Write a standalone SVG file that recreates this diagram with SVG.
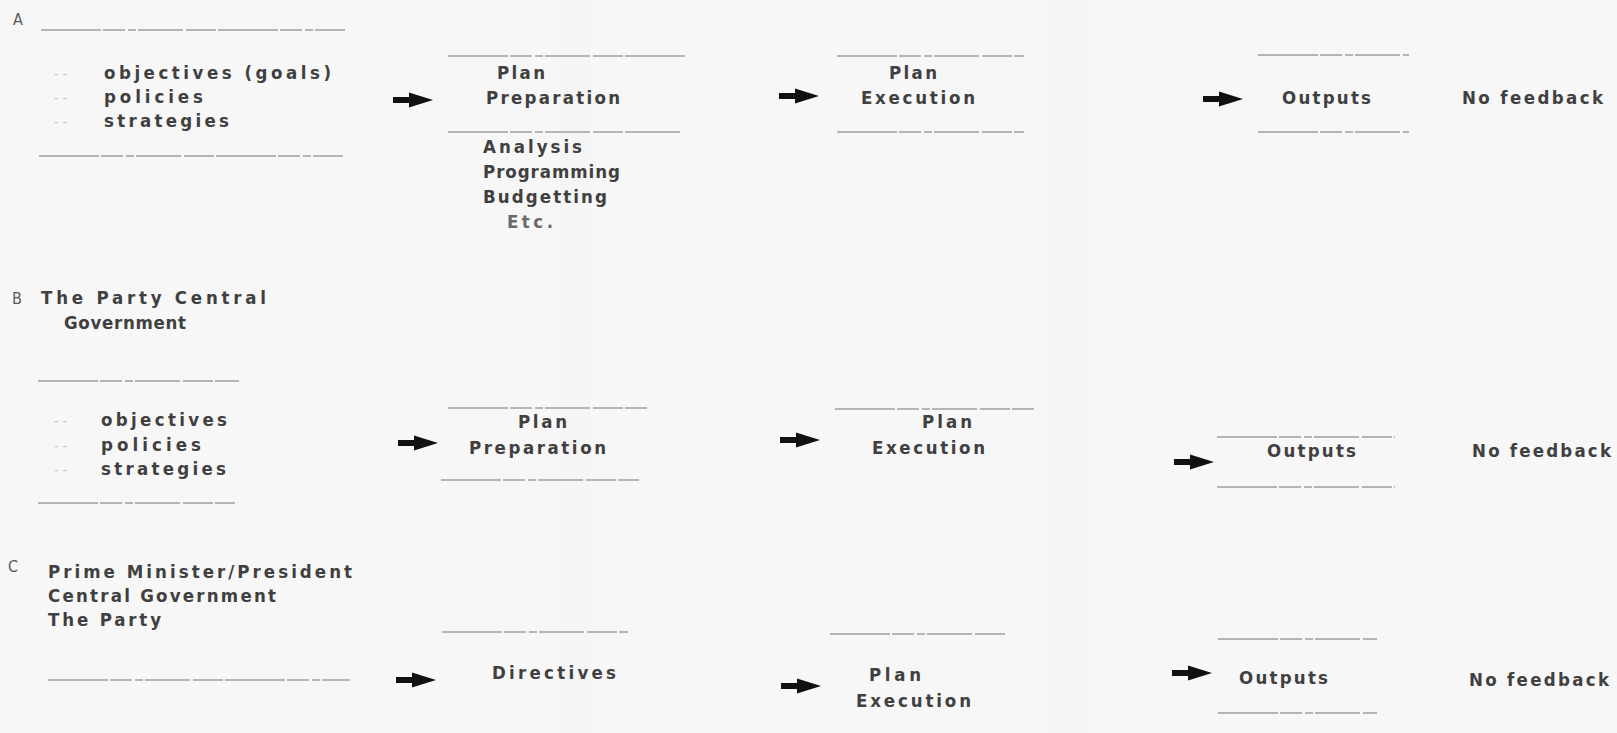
<svg xmlns="http://www.w3.org/2000/svg" width="1617" height="733" viewBox="0 0 1617 733">
  <defs>
    <style>
      .t { font-family: "DejaVu Sans Condensed", "Liberation Sans Narrow", "Liberation Sans", sans-serif; font-stretch: condensed; font-weight: bold; font-size: 18.5px; fill: #404040; }
      .lbl { font-family: "DejaVu Sans Condensed", "Liberation Sans", sans-serif; font-stretch: condensed; font-size: 16px; fill: #5a5a5a; }
      .bul { font-family: "DejaVu Sans Mono", monospace; font-size: 14px; fill: #c4c4c4; }
      .rule { stroke: #a0a0a0; stroke-width: 1.5; fill: none; stroke-dasharray: 60 2 22 3 8 2 45 3 30 2; }
      .arrow { fill: #111; }
    </style>
    <path id="arr" d="M0,-3 L16,-3 L16,-7.5 L40,0 L16,7.5 L16,3 L0,3 Z"/>
  </defs>

  <rect width="1617" height="733" fill="#f7f7f7"/>
  <rect x="560" y="0" width="30" height="733" fill="#f2f2f2" opacity="0.4"/>
  <rect x="1050" y="0" width="40" height="733" fill="#f3f3f3" opacity="0.4"/>

  <!-- Row A -->
  <g id="a-source">
    <text class="lbl" x="13" y="25">A</text>
    <line class="rule" x1="41" y1="30" x2="345" y2="30"/>
    <text class="bul" x="52" y="79">--</text>
    <text class="bul" x="52" y="103">--</text>
    <text class="bul" x="52" y="127">--</text>
    <text class="t" x="104" y="79" textLength="227" lengthAdjust="spacing">objectives (goals)</text>
    <text class="t" x="104" y="103" textLength="99" lengthAdjust="spacing">policies</text>
    <text class="t" x="104" y="127" textLength="125" lengthAdjust="spacing">strategies</text>
    <line class="rule" x1="39" y1="156" x2="343" y2="156"/>
  </g>
  <g id="a-plan-preparation">
    <line class="rule" x1="448" y1="56" x2="686" y2="56"/>
    <text class="t" x="497" y="79" textLength="48" lengthAdjust="spacing">Plan</text>
    <text class="t" x="486" y="104" textLength="134" lengthAdjust="spacing">Preparation</text>
    <line class="rule" x1="448" y1="132" x2="680" y2="132"/>
    <text class="t" x="483" y="153" textLength="99" lengthAdjust="spacing">Analysis</text>
    <text class="t" x="483" y="178" textLength="137" lengthAdjust="spacing">Programming</text>
    <text class="t" x="483" y="203" textLength="124" lengthAdjust="spacing">Budgetting</text>
    <text class="t" x="507" y="228" textLength="46" lengthAdjust="spacing" style="fill:#6a6a6a">Etc.</text>
  </g>
  <g id="a-plan-execution">
    <line class="rule" x1="837" y1="56" x2="1024" y2="56"/>
    <text class="t" x="889" y="79" textLength="48" lengthAdjust="spacing">Plan</text>
    <text class="t" x="861" y="104" textLength="114" lengthAdjust="spacing">Execution</text>
    <line class="rule" x1="837" y1="132" x2="1024" y2="132"/>
  </g>
  <g id="a-outputs">
    <line class="rule" x1="1258" y1="55" x2="1409" y2="55"/>
    <text class="t" x="1282" y="104" textLength="89" lengthAdjust="spacing">Outputs</text>
    <line class="rule" x1="1258" y1="132" x2="1409" y2="132"/>
  </g>
  <g id="a-feedback">
    <text class="t" x="1462" y="104" textLength="141" lengthAdjust="spacing">No feedback</text>
  </g>

  <!-- Row B -->
  <g id="b-source">
    <text class="lbl" x="12" y="304">B</text>
    <text class="t" x="41" y="304" textLength="225" lengthAdjust="spacing">The Party Central</text>
    <text class="t" x="64" y="329" textLength="122" lengthAdjust="spacing">Government</text>
    <line class="rule" x1="38" y1="381" x2="239" y2="381"/>
    <text class="bul" x="52" y="426">--</text>
    <text class="bul" x="52" y="451">--</text>
    <text class="bul" x="52" y="475">--</text>
    <text class="t" x="101" y="426" textLength="126" lengthAdjust="spacing">objectives</text>
    <text class="t" x="101" y="451" textLength="100" lengthAdjust="spacing">policies</text>
    <text class="t" x="101" y="475" textLength="125" lengthAdjust="spacing">strategies</text>
    <line class="rule" x1="38" y1="503" x2="235" y2="503"/>
  </g>
  <g id="b-plan-preparation">
    <line class="rule" x1="448" y1="408" x2="647" y2="408"/>
    <text class="t" x="518" y="428" textLength="49" lengthAdjust="spacing">Plan</text>
    <text class="t" x="469" y="454" textLength="137" lengthAdjust="spacing">Preparation</text>
    <line class="rule" x1="441" y1="480" x2="639" y2="480"/>
  </g>
  <g id="b-plan-execution">
    <line class="rule" x1="835" y1="409" x2="1034" y2="409"/>
    <text class="t" x="922" y="428" textLength="50" lengthAdjust="spacing">Plan</text>
    <text class="t" x="872" y="454" textLength="113" lengthAdjust="spacing">Execution</text>
  </g>
  <g id="b-outputs">
    <line class="rule" x1="1217" y1="437" x2="1395" y2="437"/>
    <text class="t" x="1267" y="457" textLength="89" lengthAdjust="spacing">Outputs</text>
    <line class="rule" x1="1217" y1="487" x2="1395" y2="487"/>
  </g>
  <g id="b-feedback">
    <text class="t" x="1472" y="457" textLength="139" lengthAdjust="spacing">No feedback</text>
  </g>

  <!-- Row C -->
  <g id="c-source">
    <text class="lbl" x="8" y="572">C</text>
    <text class="t" x="48" y="578" textLength="304" lengthAdjust="spacing">Prime Minister/President</text>
    <text class="t" x="48" y="602" textLength="228" lengthAdjust="spacing">Central Government</text>
    <text class="t" x="48" y="626" textLength="113" lengthAdjust="spacing">The Party</text>
    <line class="rule" x1="48" y1="680" x2="350" y2="680"/>
  </g>
  <g id="c-directives">
    <line class="rule" x1="442" y1="632" x2="628" y2="632"/>
    <text class="t" x="492" y="679" textLength="124" lengthAdjust="spacing">Directives</text>
  </g>
  <g id="c-plan-execution">
    <line class="rule" x1="830" y1="634" x2="1006" y2="634"/>
    <text class="t" x="869" y="681" textLength="52" lengthAdjust="spacing">Plan</text>
    <text class="t" x="856" y="707" textLength="115" lengthAdjust="spacing">Execution</text>
  </g>
  <g id="c-outputs">
    <line class="rule" x1="1218" y1="639" x2="1377" y2="639"/>
    <text class="t" x="1239" y="684" textLength="89" lengthAdjust="spacing">Outputs</text>
    <line class="rule" x1="1218" y1="713" x2="1377" y2="713"/>
  </g>
  <g id="c-feedback">
    <text class="t" x="1469" y="686" textLength="140" lengthAdjust="spacing">No feedback</text>
  </g>

  <!-- Connectors -->
  <g id="connectors" class="arrow">
    <use href="#arr" transform="translate(393,100)"/>
    <use href="#arr" transform="translate(779,96)"/>
    <use href="#arr" transform="translate(1203,99)"/>
    <use href="#arr" transform="translate(398,443)"/>
    <use href="#arr" transform="translate(780,440)"/>
    <use href="#arr" transform="translate(1174,462)"/>
    <use href="#arr" transform="translate(396,680)"/>
    <use href="#arr" transform="translate(781,686)"/>
    <use href="#arr" transform="translate(1172,673)"/>
  </g>
</svg>
